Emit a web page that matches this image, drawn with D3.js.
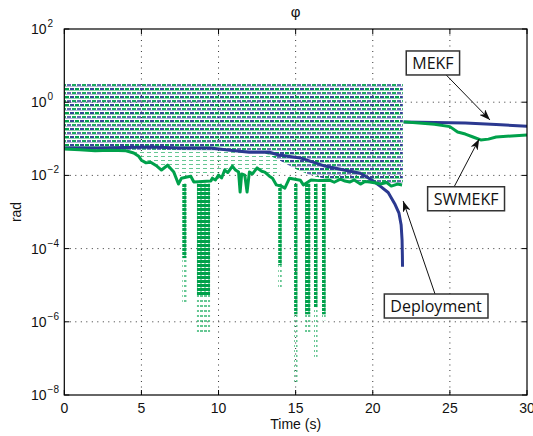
<!DOCTYPE html>
<html lang="en">
<head>
<meta charset="UTF-8">
<title>phi</title>
<script src="https://cdn.jsdelivr.net/npm/d3@7"></script>
<style>
  body { margin: 0; background: #fff; }
  text { font-family: "Liberation Sans", Arial, sans-serif; fill: #111; }
</style>
</head>
<body>
<div id="chart"></div>
<script>
// values: time in s, angle error in rad
const mekfTime = [0, 2.3, 5.6, 7.5, 9.45, 10.75, 12.0, 13.3, 13.9, 15.3, 16.9, 18.2, 19.2, 19.96, 20.5, 21.0, 21.45, 21.7, 21.84, 21.9, 21.92, 21.93]
const mekfVal = [0.056, 0.056, 0.060, 0.056, 0.056, 0.049, 0.043, 0.043, 0.036, 0.030, 0.018, 0.0138, 0.0115, 0.0074, 0.0050, 0.0034, 0.0016, 0.00093, 0.00044, 0.00017, 6.6e-5, 3.2e-5]
const mekfPostTime = [22.0, 24, 26, 28, 30]
const mekfPostVal = [0.29, 0.28, 0.27, 0.245, 0.22]

const swTime = [0, 1, 2, 3, 4, 4.5, 4.8, 5, 5.3, 5.6, 6.0, 6.3, 6.7, 7.1, 7.4, 7.6, 7.95, 8.2, 8.4, 9.5, 9.6, 9.8, 10, 10.2, 10.4, 10.6, 10.9, 11.1, 11.3, 11.4, 11.5, 11.7, 11.85, 12.0, 12.2, 12.5, 12.8, 13.0, 13.3, 13.5, 13.75, 14.1, 14.3, 14.6, 15.3, 15.5, 16.0, 16.5, 17.2, 17.5, 17.9, 18.2, 18.5, 18.8, 19.2, 19.5, 19.8, 20.2, 20.5, 20.9, 21.2, 21.6, 21.9]
const swVal = [0.053, 0.05, 0.047, 0.049, 0.047, 0.041, 0.034, 0.026, 0.022, 0.023, 0.018, 0.014, 0.019, 0.0123, 0.0058, 0.0084, 0.009, 0.0095, 0.0066, 0.007, 0.0084, 0.0075, 0.0102, 0.0085, 0.014, 0.012, 0.018, 0.014, 0.0123, 0.0035, 0.011, 0.0102, 0.0035, 0.0123, 0.011, 0.016, 0.013, 0.0123, 0.0095, 0.0084, 0.0055, 0.005, 0.0045, 0.0084, 0.0074, 0.0055, 0.0075, 0.0072, 0.0074, 0.0065, 0.0079, 0.007, 0.0066, 0.0075, 0.0058, 0.0068, 0.0066, 0.0062, 0.0058, 0.0064, 0.0051, 0.0058, 0.0055]
const swPostTime = [22.0, 23, 24, 25, 25.5, 26, 26.5, 27, 27.5, 28, 29, 30]
const swPostVal = [0.29, 0.27, 0.25, 0.215, 0.154, 0.135, 0.112, 0.093, 0.098, 0.112, 0.12, 0.127]

// deep dips of the SWMEKF error: start, end, dense down to, sparse down to
const dipStart = [7.65, 8.6, 13.87, 14.9, 15.61, 16.19, 16.71]
const dipEnd = [7.92, 9.45, 14.1, 15.12, 15.95, 16.42, 16.95]
const dipDense = [5.5e-5, 5.4e-6, 3.5e-5, 1.6e-6, 1.6e-6, 2.5e-6, 1.6e-6]
const dipSparse = [3.2e-6, 4.4e-7, 8.9e-6, 2.2e-8, 5e-7, 1.1e-7, 1.1e-6]

// wrapped oscillation before deployment, from pi down to these edges
const bandTop = Math.PI
const bandTime = [0, 4.5, 5, 10, 12, 13, 14, 15, 16, 17, 18, 19, 20, 21, 21.95]
const bandLow = [0.05, 0.05, 0.05, 0.048, 0.043, 0.04, 0.025, 0.015, 0.01, 0.008, 0.0075, 0.007, 0.0065, 0.006, 0.006]
const sparseTime = [4.5, 5, 6, 7, 8, 9, 10, 11, 12, 13, 14]
const sparseLow = [0.045, 0.03, 0.02, 0.014, 0.01, 0.01, 0.012, 0.015, 0.014, 0.012, 0.01]

const xTicks = [0, 5, 10, 15, 20, 25, 30]
const yTickExp = [2, 0, -2, -4, -6, -8]

// annotations: label, box centre, arrow tail, arrow head (time, value)
const noteLabel = ["MEKF", "SWMEKF", "Deployment"]
const noteAt = [[23.9, 11.8], [26.05, 0.0023], [24.1, 2.7e-6]]
const noteTail = [[24.7, 5.9], [25.3, 0.0051], [24.04, 5.7e-6]]
const noteHead = [[27.6, 0.327], [26.9, 0.099], [21.97, 0.002]]

const blue = "#2b3990", green = "#00a14b"
const W = 533, H = 436
const pL = 64.3, pR = 527, pT = 29, pB = 395

const svg = d3.select("#chart").append("svg").attr("width", W).attr("height", H)
const x = d3.scaleLinear([0, 30], [pL, pR])
const y = d3.scaleLog([1e-8, 1e2], [pB, pT])

const defs = svg.append("defs")
defs.append("clipPath").attr("id", "plot").append("rect")
    .attr("x", pL).attr("y", pT).attr("width", pR - pL).attr("height", pB - pT)

// dashes of the aliased oscillation
function pattern(id, pw, ph, dashes) {
    const p = defs.append("pattern").attr("id", id).attr("patternUnits", "userSpaceOnUse")
        .attr("width", pw).attr("height", ph)
    dashes.forEach(([dx, dy, dw, dh, c, o]) => p.append("rect").attr("shape-rendering", "crispEdges")
        .attr("x", dx).attr("y", dy).attr("width", dw).attr("height", dh).attr("fill", c).attr("opacity", o))
}
pattern("osc", 10, 8, [
    [0, 0, 4, 2, blue, 0.95], [5, 0, 4, 2, green, 1],
    [0, 2, 10, 1, green, 0.45],
    [2, 4, 4, 2, green, 0.9], [7, 4, 3, 2, blue, 0.75], [0, 4, 1, 2, blue, 0.75],
    [0, 6, 10, 1, blue, 0.35]
])
pattern("sparse", 7, 4, [[0, 0, 4, 1, green, 0.6]])
pattern("dense", 4, 4, [[0, 0, 4, 3, green, 1], [0, 3, 2, 1, green, 0.5]])
pattern("sparseDip", 4, 5, [[0, 0, 3, 2, green, 0.6]])

defs.append("marker").attr("id", "head").attr("markerUnits", "userSpaceOnUse")
    .attr("markerWidth", 12).attr("markerHeight", 8).attr("refX", 11).attr("refY", 4).attr("orient", "auto")
    .append("path").attr("d", "M0,0 L11,4 L0,8 L3,4 Z").attr("fill", "#111")

// grid
const grid = svg.append("g").attr("stroke", "#333").attr("stroke-width", 1).attr("stroke-dasharray", "1,4.5")
grid.selectAll("line.v").data(xTicks.slice(1, -1)).join("line")
    .attr("x1", d => x(d)).attr("x2", d => x(d)).attr("y1", pT).attr("y2", pB)
grid.selectAll("line.h").data(yTickExp.slice(1, -1)).join("line")
    .attr("x1", pL).attr("x2", pR).attr("y1", d => y(10 ** d)).attr("y2", d => y(10 ** d))

const plot = svg.append("g").attr("clip-path", "url(#plot)")
const band = d3.area().x(d => x(d[0])).y0(d => y(d[1])).y1(d => y(d[2]))
plot.append("path").datum(sparseTime.map((t, i) => [t, sparseLow[i], bandLow[0]]))
    .attr("d", band).attr("fill", "url(#sparse)")
plot.append("path").datum(bandTime.map((t, i) => [t, bandLow[i], bandTop]))
    .attr("d", band).attr("fill", "url(#osc)")

// dips
dipStart.forEach((t0, i) => {
    plot.append("rect").attr("x", x(t0)).attr("width", x(dipEnd[i]) - x(t0))
        .attr("y", y(dipDense[i])).attr("height", y(dipSparse[i]) - y(dipDense[i]))
        .attr("fill", "url(#sparseDip)")
    plot.append("rect").attr("x", x(t0)).attr("width", x(dipEnd[i]) - x(t0))
        .attr("y", y(0.006)).attr("height", y(dipDense[i]) - y(0.006))
        .attr("fill", "url(#dense)")
})

const line = d3.line().x(d => x(d[0])).y(d => y(d[1]))
const series = [
    [mekfTime, mekfVal, blue], [mekfPostTime, mekfPostVal, blue],
    [swTime, swVal, green], [swPostTime, swPostVal, green]
]
series.forEach(([ts, vs, c]) => {
    plot.append("path").datum(ts.map((t, i) => [t, vs[i]]))
        .attr("d", line).attr("fill", "none").attr("stroke", c).attr("stroke-width", 3)
        .attr("stroke-linejoin", "round")
})

// axes box and ticks
svg.append("rect").attr("x", pL).attr("y", pT).attr("width", pR - pL).attr("height", pB - pT)
    .attr("fill", "none").attr("stroke", "#000").attr("stroke-width", 1.2)
const tk = svg.append("g").attr("stroke", "#000").attr("stroke-width", 1)
xTicks.forEach(d => {
    tk.append("line").attr("x1", x(d)).attr("x2", x(d)).attr("y1", pB).attr("y2", pB - 5)
    tk.append("line").attr("x1", x(d)).attr("x2", x(d)).attr("y1", pT).attr("y2", pT + 5)
    svg.append("text").attr("x", x(d)).attr("y", 413).attr("text-anchor", "middle")
        .attr("font-size", 14).text(d)
})
yTickExp.forEach(e => {
    const yy = y(10 ** e)
    tk.append("line").attr("x1", pL).attr("x2", pL + 5).attr("y1", yy).attr("y2", yy)
    tk.append("line").attr("x1", pR).attr("x2", pR - 5).attr("y1", yy).attr("y2", yy)
    const t = svg.append("text").attr("x", 31).attr("y", yy + 5).attr("font-size", 14)
    t.append("tspan").text("10")
    t.append("tspan").attr("dy", -7).attr("dx", 1).attr("font-size", 10).text(e < 0 ? "\u2212" + (-e) : e)
})

svg.append("text").attr("x", (pL + pR) / 2).attr("y", 17).attr("text-anchor", "middle")
    .attr("font-size", 15).text("\u03c6")
svg.append("text").attr("x", (pL + pR) / 2).attr("y", 429).attr("text-anchor", "middle")
    .attr("font-size", 14).text("Time (s)")
svg.append("text").attr("transform", `translate(21,${(pT + pB) / 2}) rotate(-90)`)
    .attr("text-anchor", "middle").attr("font-size", 14).text("rad")

// annotations
noteLabel.forEach((s, i) => {
    svg.append("line").attr("x1", x(noteTail[i][0])).attr("y1", y(noteTail[i][1]))
        .attr("x2", x(noteHead[i][0])).attr("y2", y(noteHead[i][1]))
        .attr("stroke", "#111").attr("stroke-width", 1).attr("marker-end", "url(#head)")
    const g = svg.append("g")
    const r = g.append("rect")
    const t = g.append("text").attr("x", x(noteAt[i][0])).attr("y", y(noteAt[i][1]) + 6)
        .attr("text-anchor", "middle").attr("font-size", 16)
        .style("font-family", "'Open Sans', 'Noto Sans', sans-serif").attr("fill", "#222").text(s)
    const b = t.node().getBBox()
    r.attr("x", b.x - 6).attr("y", y(noteAt[i][1]) - 12).attr("width", b.width + 12).attr("height", 24)
        .attr("fill", "#fff").attr("stroke", "#333").attr("stroke-width", 1.5)
})
</script>
</body>
</html>
